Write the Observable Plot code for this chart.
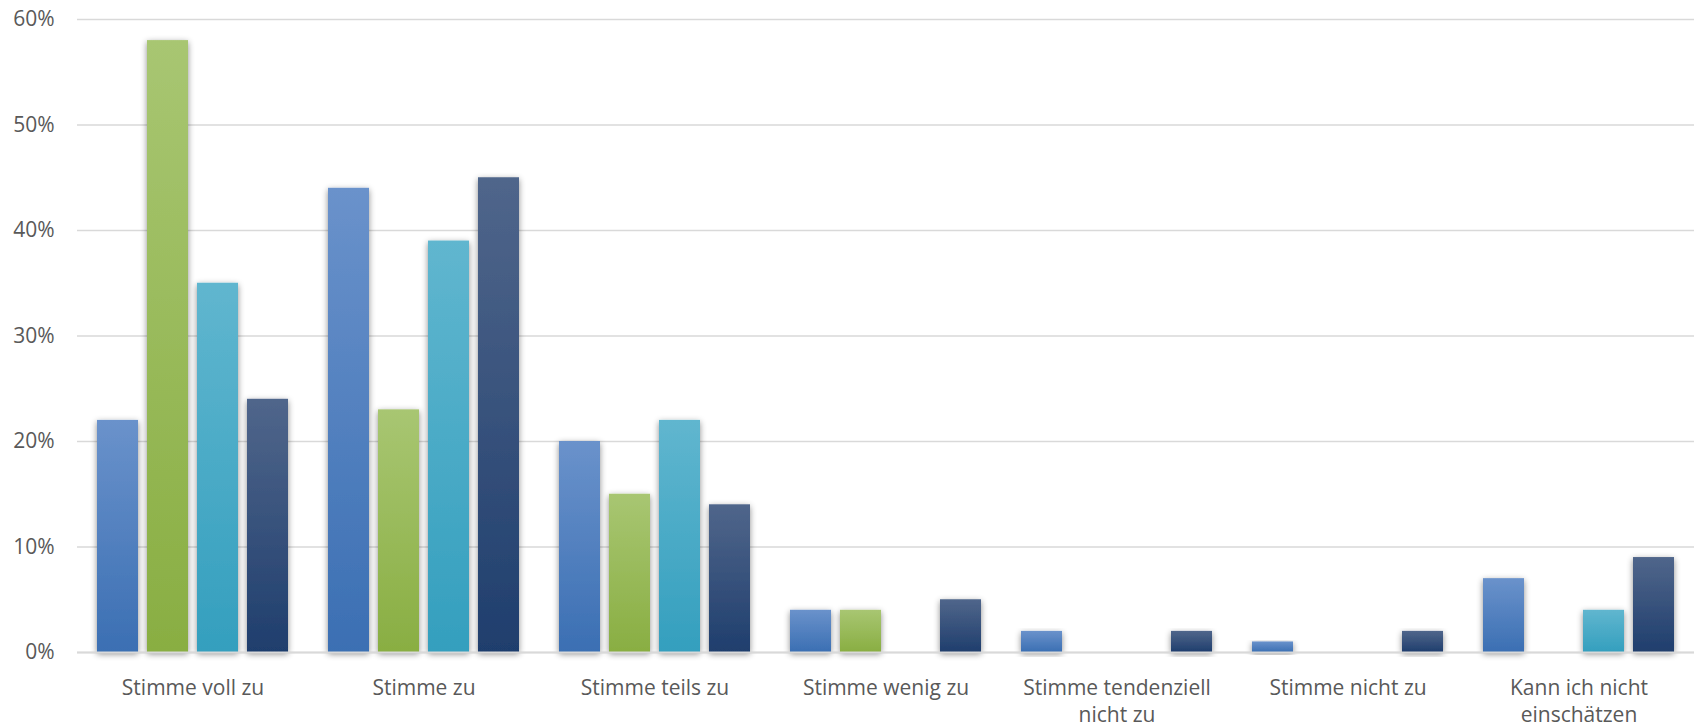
<!DOCTYPE html>
<html>
<head>
<meta charset="utf-8">
<script src="https://cdn.jsdelivr.net/npm/d3@7"></script>
<script src="https://cdn.jsdelivr.net/npm/@observablehq/plot@0.6"></script>
<style>
  html, body { margin: 0; padding: 0; background: #fff; overflow: hidden; }
  #chart svg { display: block; }
</style>
</head>
<body>
<div id="chart"></div>
<script>
// Antwortkategorien (x-Gruppen) und ihre Achsenbeschriftungen
const categories = [
  "Stimme voll zu",
  "Stimme zu",
  "Stimme teils zu",
  "Stimme wenig zu",
  "Stimme tendenziell nicht zu",
  "Stimme nicht zu",
  "Kann ich nicht einschätzen"
];
const categoryLabels = [
  "Stimme voll zu",
  "Stimme zu",
  "Stimme teils zu",
  "Stimme wenig zu",
  "Stimme tendenziell\nnicht zu",
  "Stimme nicht zu",
  "Kann ich nicht\neinschätzen"
];

// Vier Befragtengruppen, Anteile in Prozent (null = kein Wert)
const series = ["Gruppe 1", "Gruppe 2", "Gruppe 3", "Gruppe 4"];
const gruppe1 = [22, 44, 20, 4, 2, 1, 7];
const gruppe2 = [58, 23, 15, 4, null, null, null];
const gruppe3 = [35, 39, 22, null, null, null, 4];
const gruppe4 = [24, 45, 14, 5, 2, 2, 9];

const yTicks = [0, 10, 20, 30, 40, 50, 60];

// Farbverläufe je Gruppe: oben heller, unten dunkler
const gradients = [
  ["#6a92cb", "#3b6fb3"],
  ["#a8c672", "#89ae42"],
  ["#60b6cf", "#349fbe"],
  ["#50668b", "#1f3e6d"]
];

const seriesValues = [gruppe1, gruppe2, gruppe3, gruppe4];
const rows = [];
categories.forEach((c, i) => {
  series.forEach((s, j) => {
    const v = seriesValues[j][i];
    if (v != null) rows.push({category: c, series: s, value: v});
  });
});

const labelOf = new Map(categories.map((c, i) => [c, categoryLabels[i]]));

const chart = Plot.plot({
  width: 1694,
  height: 724,
  marginLeft: 76,
  marginRight: 0,
  marginTop: 19,
  marginBottom: 72,
  style: {fontFamily: "'Open Sans', sans-serif", fontSize: "21px", color: "#595959", background: "#fff"},
  fx: {domain: categories, padding: 0},
  x: {domain: series, paddingInner: 0.18, paddingOuter: 0.4, axis: null},
  y: {domain: [0, 60]},
  color: {type: "identity"},
  marks: [
    Plot.gridY(yTicks, {stroke: "#d9d9d9", strokeOpacity: 1, strokeWidth: 1.5}),
    Plot.barY(rows, {
      fx: "category",
      x: "series",
      y: "value",
      fill: d => `url(#bar-grad-${series.indexOf(d.series)})`
    }),
    Plot.ruleY([0], {stroke: "#d9d9d9", strokeWidth: 2}),
    Plot.axisY({
      ticks: yTicks,
      tickSize: 0,
      tickPadding: 23,
      tickFormat: d => d + "%",
      label: null,
      fontSize: 21
    }),
    Plot.axisFx({
      anchor: "bottom",
      tickSize: 0,
      tickPadding: 23,
      lineHeight: 1.29,
      tickFormat: d => labelOf.get(d),
      label: null,
      fontSize: 21
    })
  ]
});

// Verlaufs- und Schattendefinitionen für die Balken
const svg = d3.select(chart);
const defs = svg.insert("defs", ":first-child");
gradients.forEach(([top, bottom], i) => {
  const g = defs.append("linearGradient")
    .attr("id", `bar-grad-${i}`)
    .attr("x1", 0).attr("y1", 0).attr("x2", 0).attr("y2", 1);
  g.append("stop").attr("offset", "0%").attr("stop-color", top);
  g.append("stop").attr("offset", "100%").attr("stop-color", bottom);
});
const shadow = defs.append("filter")
  .attr("id", "bar-shadow")
  .attr("x", "-40%").attr("y", "-10%").attr("width", "180%").attr("height", "130%");
shadow.append("feDropShadow")
  .attr("dx", 0).attr("dy", 2)
  .attr("stdDeviation", 3)
  .attr("flood-color", "#000")
  .attr("flood-opacity", 0.45);

svg.selectAll("g[aria-label='bar'] rect").attr("filter", "url(#bar-shadow)");

document.getElementById("chart").appendChild(chart);
</script>
</body>
</html>
